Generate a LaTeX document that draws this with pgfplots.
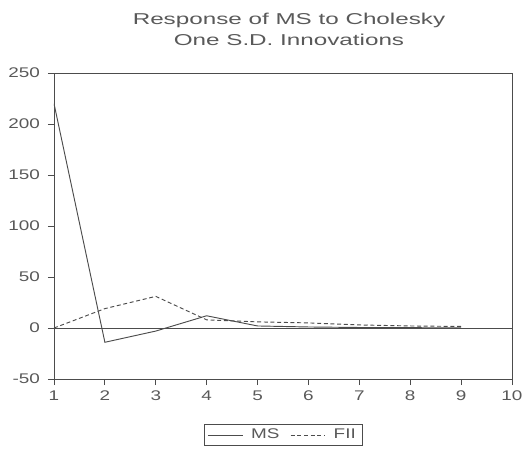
\documentclass[border=0pt]{standalone}
\usepackage{pgfplots}
\pgfplotsset{compat=1.18}
\usepackage{fontspec}
\setmainfont{Liberation Sans}[FakeStretch=1.35]
\newfontfamily\titlefont{Liberation Sans}[FakeStretch=1.54]
\definecolor{txt}{gray}{0.35}
\definecolor{ln}{gray}{0.3}
\begin{document}
\begin{tikzpicture}
% page frame in px*0.75pt, axis south west at origin
\useasboundingbox (-40.5pt,-55.5pt) rectangle (357.75pt,284.25pt);
\begin{axis}[
    scale only axis,
    width=343.5pt, height=229.5pt,
    xmin=1, xmax=10,
    ymin=-50, ymax=250,
    xtick={1,...,10},
    ytick={-50,0,50,100,150,200,250},
    tick align=outside,
    xtick pos=bottom, ytick pos=left,
    major tick length=4.5pt,
    axis line style={ln, line width=0.6pt},
    tick style={ln, line width=0.6pt},
    every tick label/.append style={font=\fontsize{10.5}{12}\selectfont, text=txt},
    yticklabel style={xshift=-2.5pt},
    xticklabel style={yshift=-1pt},
    /pgf/number format/assume math mode=true,
    title={Response of MS to Cholesky\\One S.D. Innovations},
    title style={at={(0.5,1)}, anchor=south, align=center,
        font=\titlefont\fontsize{11.8}{16}\selectfont, text=txt,
        yshift=11pt, xshift=4.5pt},
    legend style={at={(0.5,-0.148)}, anchor=north, legend columns=2,
        draw=ln, font=\fontsize{10.5}{12}\selectfont, text=txt,
        inner ysep=1.5pt, inner xsep=2.5pt,
        /tikz/every even column/.append style={column sep=6pt}},
    legend image code/.code={\draw[#1] (0pt,0pt) -- (26pt,0pt);
        \path (30pt,0pt);},
]
\addplot[ln, line width=0.7pt] coordinates {
(1,220) (2,-14) (3,-3) (4,12) (5,2) (6,1) (7,0.5) (8,0.3) (9,0.2)
};
\addplot[ln, line width=0.7pt, dash pattern=on 3pt off 2pt] coordinates {
(1,0) (2,19) (3,31) (4,8) (5,6) (6,5) (7,3) (8,2) (9,1.5)
};
\addplot[ln, line width=0.6pt, forget plot] coordinates {(1,0) (10,0)};
\legend{MS, FII}
\end{axis}
\end{tikzpicture}
\end{document}
